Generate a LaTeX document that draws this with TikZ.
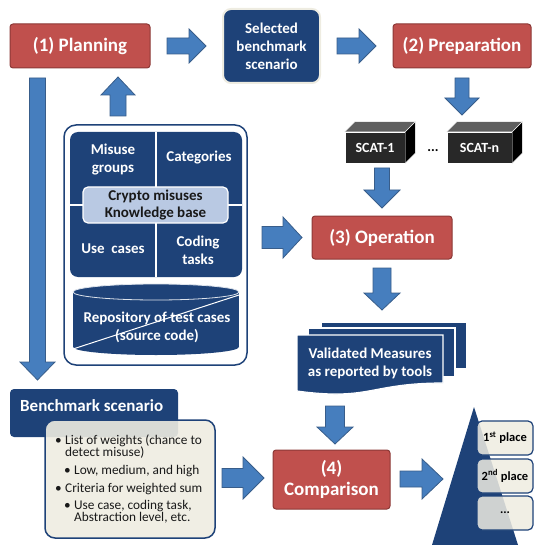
\documentclass[tikz,border=0pt]{standalone}
\usepackage{fontspec}
\setmainfont{Carlito}
\usetikzlibrary{calc}
\definecolor{dblue}{RGB}{30,66,120}
\definecolor{redf}{RGB}{192,80,77}
\definecolor{redd}{RGB}{140,56,54}
\definecolor{arrf}{RGB}{70,126,190}
\definecolor{arrd}{RGB}{56,93,138}
\definecolor{cream}{RGB}{238,236,225}
\definecolor{kbf}{RGB}{185,201,227}
\definecolor{scatfront}{RGB}{40,40,40}
\definecolor{scattopc}{RGB}{95,95,95}
\newcommand\fsz[2]{\fontsize{#1}{#2}\selectfont}
\newcommand\blockarrow[7]{\begin{scope}[shift={(#1,#2)},rotate=#3]\draw[barrow] (0,-#5) -- ({#4-#7},-#5) -- ({#4-#7},-#6) -- (#4,0) -- ({#4-#7},#6) -- ({#4-#7},#5) -- (0,#5) -- cycle;\end{scope}}
\begin{document}
\begin{tikzpicture}[x=1pt,y=-1pt,
  every node/.style={inner sep=0pt},
  redbox/.style={draw=redd, fill=redf, line width=1pt, rounded corners=3pt, text=white, font=\bfseries\fsz{19}{21}, align=center},
  barrow/.style={draw=arrd, fill=arrf, line width=0.8pt, line join=miter},
  lbl/.style={text=white, font=\bfseries\fsz{15}{18}, align=center},
  placebox/.style={draw=dblue, fill=cream, fill opacity=0.85, text opacity=1, line width=1.2pt, rounded corners=5pt, minimum width=56pt, minimum height=34pt, font=\bfseries\fsz{12.5}{14}, text=black},
  scat/.style={draw=white, fill=scatfront, line width=0.6pt, text=white, font=\bfseries\fsz{14}{16}},
  btext/.style={anchor=west, font=\fsz{13.3}{15}, text height=9pt, text depth=3pt, text=black!90},
  pagesty/.style={fill=dblue, draw=white, line width=1.2pt}
]
\useasboundingbox (0,0) rectangle (533,545);

% top row
\node[redbox, minimum width=140pt, minimum height=44pt] (plan) at (80,46) {(1) Planning};
\node[fill=dblue, draw=cream, line width=2pt, rounded corners=8pt, minimum width=97pt, minimum height=74pt, lbl] (sel) at (271.5,46) {Selected\\benchmark\\scenario};
\node[redbox, minimum width=138pt, minimum height=44pt] (prep) at (462,46) {(2) Preparation};
\blockarrow{167}{46}{0}{39}{8}{17}{17}
\blockarrow{337}{46}{0}{39}{8}{17}{17}
\blockarrow{462}{78}{-90}{37}{7}{17}{17}

% SCAT tools
\node[scat, minimum width=60pt, minimum height=31pt] (s1) at (375,147.5) {SCAT-1};
\node[scat, minimum width=65pt, minimum height=31pt] (sn) at (479.5,147.5) {SCAT-n};
\foreach \n in {s1,sn}{
  \fill[scattopc] (\n.north west) -- ++(10,-10) -- ($(\n.north east)+(10,-10)$) -- (\n.north east) -- cycle;
  \fill[black] (\n.north east) -- ++(10,-10) -- ($(\n.south east)+(10,-10)$) -- (\n.south east) -- cycle;
  \draw[white, line width=0.6pt] (\n.north west) -- ++(10,-10) -- ($(\n.north east)+(10,-10)$) -- ($(\n.south east)+(10,-10)$) -- (\n.south east);
  \draw[white, line width=0.6pt] (\n.north east) -- ++(10,-10);
}
\node[font=\bfseries\fsz{14}{16}, text=black] (dots) at (433,151) {...};
\blockarrow{382}{168}{-90}{40}{7.5}{18}{18}

% operation
\node[redbox, minimum width=140pt, minimum height=43pt] (op) at (382,237.5) {(3) Operation};
\blockarrow{262}{237.5}{0}{40}{11}{20.5}{19}
\blockarrow{382}{268}{-90}{42}{9}{18}{17}

% knowledge panel
\node[draw=dblue, fill=white, line width=1.5pt, rounded corners=12pt, minimum width=183pt, minimum height=240pt] (panel) at (155.5,245) {};
\fill[dblue, rounded corners=8pt] (70,132) rectangle (242,277);
\draw[white, line width=1.5pt] (156,132) -- (156,277) (70,205) -- (242,205);
\node[lbl] (mg) at (113,159.5) {Misuse\\groups};
\node[lbl] (cat) at (199,158) {Categories};
\node[lbl] (uc) at (113,249) {Use~ cases};
\node[lbl] (ct) at (198,250) {Coding\\tasks};
\node[draw=white, fill=kbf, line width=1.2pt, rounded corners=5pt, minimum width=145pt, minimum height=36pt, font=\bfseries\fsz{15}{17}, text=black!90, align=center] (kb) at (155.5,205) {Crypto misuses\\Knowledge base};
% repository cylinder
\fill[dblue] (73,292) rectangle (239,347);
\fill[dblue] (156,347) ellipse [x radius=83, y radius=8];
\fill[dblue] (156,292) ellipse [x radius=83, y radius=8];
\draw[white!85!dblue, line width=0.8pt] (156,292) ellipse [x radius=83, y radius=8];
\draw[white, line width=1pt] (73,349) -- (239,295);
\node[lbl] (repo) at (157,327.5) {Repository of test cases\\(source code)};

\blockarrow{118}{116}{90}{39}{8}{17}{18}
\blockarrow{37.5}{78}{-90}{302}{8}{17.5}{18}

% validated measures
\draw[pagesty] (321,322) rectangle (467,369);
\draw[pagesty] (308,328) rectangle (455,377);
\draw[pagesty] (297,335) -- (443,335) -- (443,383) .. controls (370,383) and (370,401) .. (297,391) -- cycle;
\node[lbl] (val) at (370,363.5) {Validated Measures\\as reported by tools};
\blockarrow{335}{406}{-90}{38}{9.5}{18}{17}

% benchmark scenario
\node[fill=dblue, rounded corners=4pt, minimum width=168pt, minimum height=48pt] (bench) at (94,413) {};
\node[anchor=west, text=white, font=\bfseries\fsz{17}{19}] (benchtitle) at (20,406) {Benchmark scenario};
\node[draw=dblue, fill=cream, fill opacity=0.9, line width=1.5pt, rounded corners=10pt, minimum width=170pt, minimum height=118pt] (crit) at (130,479) {};
\node[btext] (b1) at (55,441) {\makebox[10pt][l]{•}List of weights (chance to};
\node[btext] (b2) at (65,453) {detect misuse)};
\node[btext] (b3) at (64,471) {\makebox[10pt][l]{•}Low, medium, and high};
\node[btext] (b4) at (55,489) {\makebox[10pt][l]{•}Criteria for weighted sum};
\node[btext] (b5) at (64,506) {\makebox[10pt][l]{•}Use case, coding task,};
\node[btext] (b6) at (74,518) {Abstraction level, etc.};
\blockarrow{222}{478}{0}{42}{9.5}{21}{21}

% comparison
\node[redbox, minimum width=117pt, minimum height=59pt] (comp) at (331.5,479.5) {(4)\\Comparison};
\blockarrow{400}{479}{0}{43}{8}{20}{21}

% ranking
\fill[dblue] (474,407) -- (518,545) -- (432,545) -- cycle;
\node[placebox] (p1) at (505,438) {1\textsuperscript{st} place};
\node[placebox] (p2) at (505,476) {2\textsuperscript{nd} place};
\node[placebox] (p3) at (505,513) {...};
\end{tikzpicture}
\end{document}
